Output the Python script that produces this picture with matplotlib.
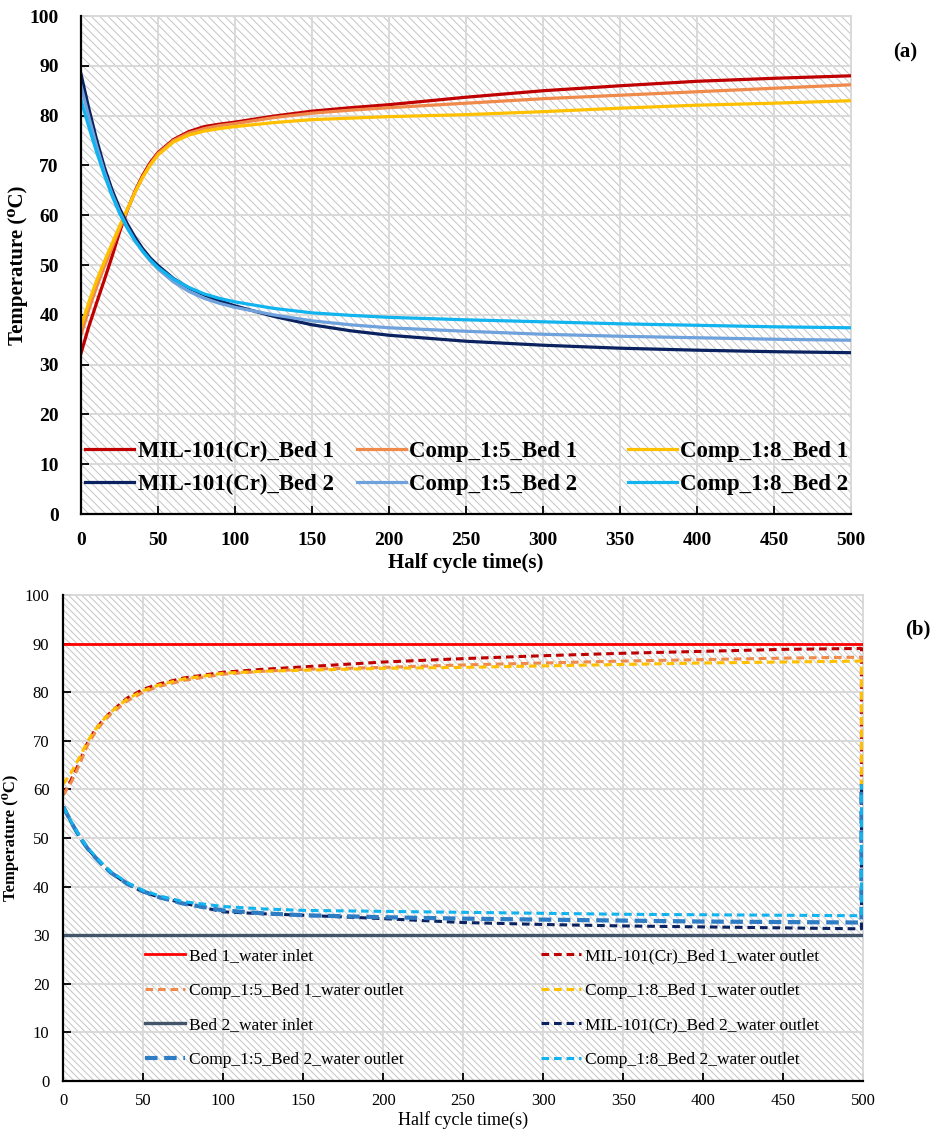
import numpy as np
import matplotlib
matplotlib.use('Agg')
import matplotlib.pyplot as plt
from matplotlib.patches import Rectangle

plt.rcParams['font.family'] = ['Liberation Serif', 'DejaVu Serif']
plt.rcParams['hatch.linewidth'] = 0.7

# ── Panel (a): bed temperatures ───────────────────────────────────────────────
t_a = [0, 5, 10, 15, 20, 25, 30, 35, 40, 45, 50, 60, 70, 80, 90, 100,
       125, 150, 175, 200, 250, 300, 350, 400, 450, 500]

mil_bed1 = [32.3, 37.6, 42.3, 46.9, 51.6, 56.6, 61.0, 64.8, 68.0, 70.6, 72.6, 75.2, 76.8,
            77.8, 78.3, 78.7, 79.9, 80.9, 81.6, 82.2, 83.7, 85.0, 86.0, 86.9, 87.5, 88.0]
c5_bed1  = [36.0, 41.0, 45.5, 49.6, 53.4, 57.3, 61.0, 64.6, 67.7, 70.3, 72.4, 75.0, 76.5,
            77.4, 78.0, 78.4, 79.6, 80.5, 81.1, 81.6, 82.5, 83.4, 84.1, 84.8, 85.5, 86.2]
c8_bed1  = [37.6, 42.5, 46.8, 50.6, 54.2, 57.8, 61.2, 64.6, 67.6, 70.1, 72.1, 74.7, 76.1,
            76.9, 77.4, 77.8, 78.6, 79.2, 79.5, 79.8, 80.2, 80.8, 81.5, 82.1, 82.5, 83.0]
mil_bed2 = [88.3, 81.5, 75.3, 69.8, 65.2, 61.4, 58.3, 55.6, 53.3, 51.4, 49.9, 47.3, 45.4,
            44.0, 42.8, 41.8, 39.7, 38.0, 36.8, 35.9, 34.7, 33.9, 33.3, 32.9, 32.6, 32.4]
c5_bed2  = [86.0, 79.8, 74.0, 68.8, 64.4, 60.7, 57.6, 54.9, 52.7, 50.8, 49.2, 46.6, 44.7,
            43.3, 42.3, 41.5, 40.0, 38.8, 38.0, 37.4, 36.7, 36.1, 35.7, 35.4, 35.1, 34.9]
c8_bed2  = [83.1, 77.8, 72.8, 68.2, 64.0, 60.4, 57.4, 54.9, 52.8, 51.0, 49.5, 47.2, 45.5,
            44.2, 43.3, 42.6, 41.3, 40.4, 39.9, 39.5, 39.0, 38.6, 38.2, 37.9, 37.6, 37.4]

# ── Panel (b): water inlet / outlet temperatures ─────────────────────────────
t_b = [0, 5, 10, 15, 20, 25, 30, 40, 50, 60, 75, 100, 125, 150,
       200, 250, 300, 350, 400, 450, 499, 499]

inlet_t     = [0, 500]
bed1_inlet  = [90, 90]
bed2_inlet  = [30, 30]

mil_out1 = [58.9, 62.0, 65.5, 69.5, 72.3, 74.3, 76.0, 78.8, 80.6, 81.7, 82.9, 84.1, 84.7,
            85.2, 86.2, 86.9, 87.5, 88.0, 88.4, 88.8, 89.0, 61.0]
c5_out1  = [58.9, 61.5, 65.0, 69.0, 71.8, 73.9, 75.6, 78.2, 80.0, 81.2, 82.4, 83.7, 84.3,
            84.7, 85.1, 85.6, 86.0, 86.4, 86.7, 87.0, 87.2, 61.0]
c8_out1  = [61.1, 63.5, 66.5, 69.8, 72.3, 74.3, 76.0, 78.6, 80.3, 81.5, 82.7, 83.9, 84.3,
            84.5, 84.9, 85.1, 85.4, 85.7, 86.0, 86.2, 86.4, 61.0]
mil_out2 = [56.4, 53.2, 50.3, 47.9, 46.0, 44.3, 42.8, 40.5, 38.9, 37.8, 36.6, 34.8, 34.4,
            34.1, 33.4, 32.6, 32.2, 31.9, 31.7, 31.5, 31.3, 61.0]
c5_out2  = [56.4, 53.2, 50.3, 47.9, 46.0, 44.3, 42.8, 40.6, 39.0, 37.8, 36.5, 35.1, 34.5,
            34.1, 33.7, 33.4, 33.2, 33.0, 32.8, 32.7, 32.6, 61.0]
c8_out2  = [56.4, 53.3, 50.5, 48.1, 46.2, 44.5, 43.0, 40.8, 39.2, 38.1, 36.9, 35.9, 35.4,
            35.1, 34.9, 34.7, 34.5, 34.3, 34.2, 34.1, 34.0, 61.0]

GRID_COL  = '#d9d9d9'
HATCH_COL = '#c4c4c4'

fig = plt.figure(figsize=(9.38, 11.38), dpi=100)
ax_a = fig.add_axes([0.0864, 0.5483, 0.8209, 0.4376])
ax_b = fig.add_axes([0.0675, 0.0501, 0.8526, 0.4271])


def style_axes(ax, hatch, tick_size, bold, pad_x, pad_y):
    ax.set_xlim(0, 500)
    ax.set_ylim(0, 100)
    ax.set_xticks(range(0, 501, 50))
    ax.set_yticks(range(0, 101, 10))
    ax.add_patch(Rectangle((0, 0), 1, 1, transform=ax.transAxes, facecolor='white',
                           edgecolor=HATCH_COL, linewidth=0, hatch=hatch, zorder=0))
    ax.set_axisbelow(True)
    ax.grid(True, color=GRID_COL, linewidth=1.4)
    for s in ('top', 'right'):
        ax.spines[s].set_color(GRID_COL)
        ax.spines[s].set_linewidth(1.4)
        ax.spines[s].set_zorder(0.8)
    for s in ('left', 'bottom'):
        ax.spines[s].set_color('black')
        ax.spines[s].set_linewidth(1.6)
    ax.tick_params(direction='in', length=6, width=1.3, labelsize=tick_size)
    ax.tick_params(axis='x', pad=pad_x)
    ax.tick_params(axis='y', pad=pad_y)
    ax.tick_params(top=False, right=False)
    for lab in ax.get_xticklabels() + ax.get_yticklabels():
        lab.set_fontweight('bold' if bold else 'normal')


# ── Panel (a) ────────────────────────────────────────────────────────────────
style_axes(ax_a, '\\\\\\\\', 14, True, 13, 16)
lw_a = 2.3
l1, = ax_a.plot(t_a, mil_bed1, color='#c00000', lw=lw_a, label='MIL-101(Cr)_Bed 1')
l2, = ax_a.plot(t_a, c5_bed1, color='#f08a4b', lw=lw_a, label='Comp_1:5_Bed 1')
l3, = ax_a.plot(t_a, c8_bed1, color='#ffc000', lw=lw_a, label='Comp_1:8_Bed 1')
l4, = ax_a.plot(t_a, mil_bed2, color='#0b2260', lw=lw_a, label='MIL-101(Cr)_Bed 2')
l5, = ax_a.plot(t_a, c5_bed2, color='#6fa2dc', lw=lw_a, label='Comp_1:5_Bed 2')
l6, = ax_a.plot(t_a, c8_bed2, color='#12b4ef', lw=lw_a, label='Comp_1:8_Bed 2')

# Excel-style legend: three equal-width columns
leg_a_kw = dict(frameon=False, loc='upper left', prop={'weight': 'bold', 'size': 16.5},
                handlelength=2.15, handletextpad=0.15, labelspacing=0.55, borderaxespad=0)
for i, (hs, x0) in enumerate([([l1, l4], -0.007), ([l2, l5], 0.346), ([l3, l6], 0.698)]):
    leg = ax_a.legend(handles=hs, bbox_to_anchor=(x0, 0.166), **leg_a_kw)
    if i < 2:
        ax_a.add_artist(leg)

ax_a.set_xlabel('Half cycle time(s)', fontsize=15, fontweight='bold', labelpad=3)
ax_a.set_ylabel('Temperature (⁰C)', fontsize=15, fontweight='bold', labelpad=1)
fig.text(0.965, 0.954, '(a)', fontsize=15, fontweight='bold', ha='center', va='center')

# ── Panel (b) ────────────────────────────────────────────────────────────────
style_axes(ax_b, '\\\\\\\\\\', 12, False, 9, 10)
dash = (0, (2.5, 1.6))
b1, = ax_b.plot(inlet_t, bed1_inlet, color='#ff0000', lw=2.0, label='Bed 1_water inlet')
b2, = ax_b.plot(t_b, mil_out1, color='#c00000', lw=2.2, ls=dash,
                label='MIL-101(Cr)_Bed 1_water outlet')
b3, = ax_b.plot(t_b, c5_out1, color='#f08a4b', lw=2.2, ls=dash,
                label='Comp_1:5_Bed 1_water outlet')
b4, = ax_b.plot(t_b, c8_out1, color='#ffc000', lw=2.2, ls=dash,
                label='Comp_1:8_Bed 1_water outlet')
b5, = ax_b.plot(inlet_t, bed2_inlet, color='#44546a', lw=2.4, label='Bed 2_water inlet')
b6, = ax_b.plot(t_b, mil_out2, color='#0b2260', lw=2.2, ls=dash,
                label='MIL-101(Cr)_Bed 2_water outlet')
b7, = ax_b.plot(t_b, c5_out2, color='#2e7cc4', lw=3.0, ls=(0, (3.0, 1.6)),
                label='Comp_1:5_Bed 2_water outlet')
b8, = ax_b.plot(t_b, c8_out2, color='#12b4ef', lw=2.2, ls=dash,
                label='Comp_1:8_Bed 2_water outlet')

leg_kw = dict(frameon=False, loc='upper left', prop={'size': 12.5},
              handlelength=2.3, handletextpad=0.2, labelspacing=1.06,
              borderaxespad=0)
leg1 = ax_b.legend(handles=[b1, b3, b5, b7], bbox_to_anchor=(0.094, 0.288), **leg_kw)
ax_b.add_artist(leg1)
ax_b.legend(handles=[b2, b4, b6, b8], bbox_to_anchor=(0.589, 0.288), **leg_kw)

ax_b.set_xlabel('Half cycle time(s)', fontsize=13, labelpad=1)
ax_b.set_ylabel('Temperature (⁰C)', fontsize=12, fontweight='bold', labelpad=4)
fig.text(0.978, 0.4465, '(b)', fontsize=15, fontweight='bold', ha='center', va='center')

fig.savefig('out.png', dpi=100, facecolor='white')
